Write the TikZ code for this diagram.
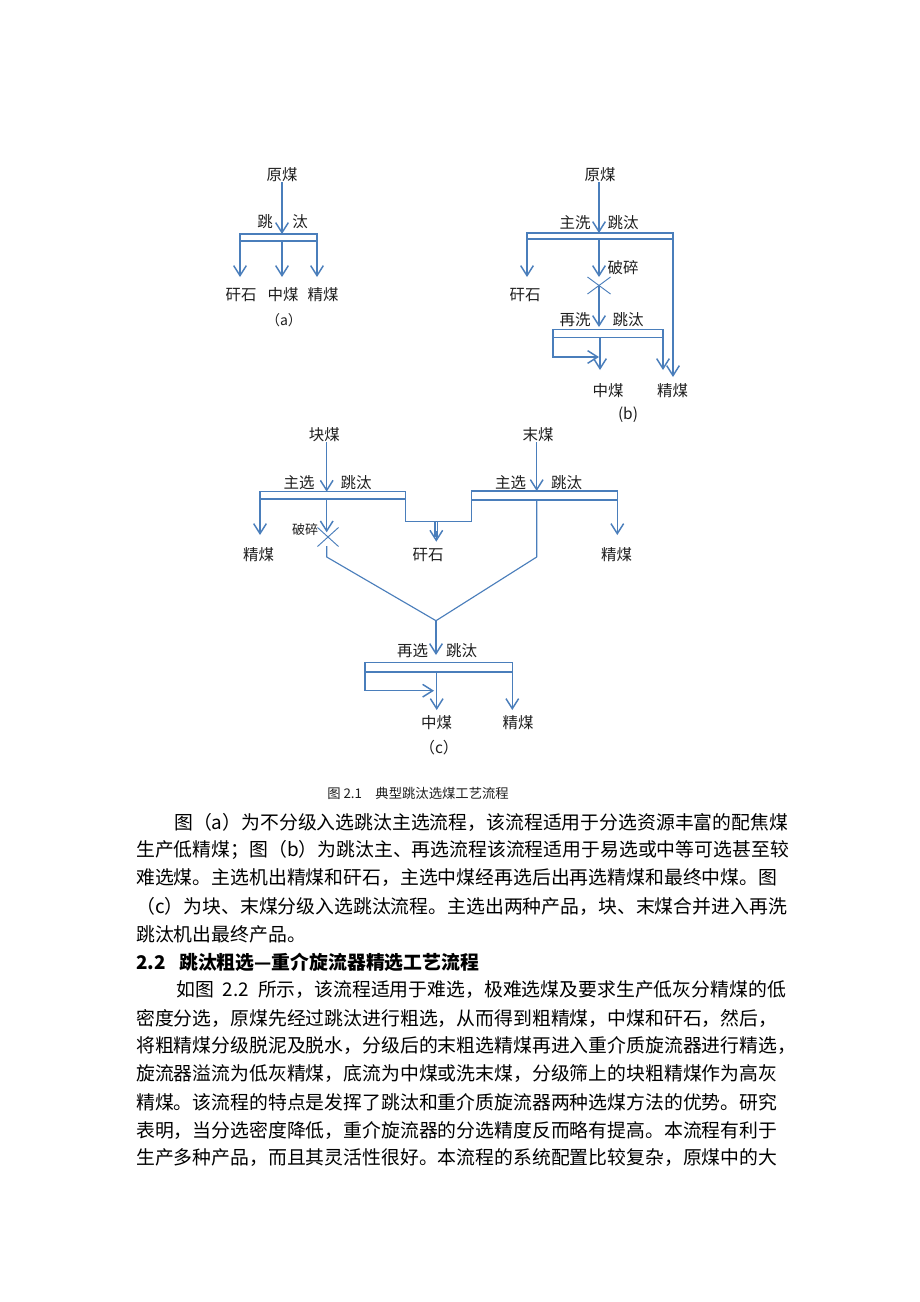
\documentclass[tikz,border=0pt]{standalone}
\usepackage{fontspec}
\setmainfont{Noto Sans CJK SC}
\usetikzlibrary{arrows.meta}
\definecolor{flowblue}{HTML}{4A7EBB}
\definecolor{ink}{HTML}{1E1E1E}
\tikzset{
  flow/.style={draw=flowblue, line width=1.1pt, line join=miter},
  arr/.style={flow, -{Straight Barb[length=7.5pt,width=9.5pt]}},
  arr2/.style={flow, {Straight Barb[length=7.5pt,width=9.5pt]}-{Straight Barb[length=7.5pt,width=9.5pt]}},
  fine/.style={draw=flowblue, line width=0.7pt},
  mid/.style={draw=flowblue, line width=0.85pt, line join=round},
  lab/.style={text=ink, inner sep=0pt, font=\fontsize{11.6pt}{13pt}\selectfont},
  smalllab/.style={text=ink, inner sep=0pt, font=\fontsize{9.75pt}{11pt}\selectfont},
  capt/.style={text=ink, inner sep=0pt, font=\fontsize{10pt}{12pt}\selectfont},
  bodyline/.style={text=black, inner sep=0pt, anchor=west, font=\fontsize{14.14pt}{17pt}\selectfont},
}
\begin{document}
\begin{tikzpicture}[x=0.75pt,y=-0.75pt]
\useasboundingbox (0,0) rectangle (920,1302);
\fill[white] (0,0) rectangle (920,1302);

% ---------------- (a) ----------------
\node[lab] (a-raw) at (282,175) {原煤};
\node[lab] (a-j1) at (265,222) {跳};
\node[lab] (a-j2) at (300,222) {汰};
\coordinate (aT) at (282,234);
\coordinate (aBL) at (240,234); \coordinate (aBR) at (317,234);
\coordinate (aCL) at (240,241); \coordinate (aCR) at (317,241); \coordinate (aCM) at (282,241);
\coordinate (aE1) at (240,277); \coordinate (aE2) at (282,277); \coordinate (aE3) at (317,277);
\draw[arr] (a-raw.south) -- (aT);
\draw[arr2] (aE1) -- (aBL) -- (aBR) -- (aE3);
\draw[flow] (aCL) -- (aCR);
\draw[arr] (aCM) -- (aE2);
\node[lab] (a-o1) at (241,295) {矸石};
\node[lab] (a-o2) at (283,295) {中煤};
\node[lab] (a-o3) at (323,295) {精煤};
\node[lab, font=\fontsize{10.5pt}{12pt}\selectfont] (a-cap) at (284,320) {（a）};

% ---------------- (b) ----------------
\node[lab] (b-raw) at (600,175) {原煤};
\node[lab] (b-j1) at (575,223) {主洗};
\node[lab] (b-j2) at (623,223) {跳汰};
\coordinate (bT) at (599,233);
\draw[arr] (b-raw.south -| bT) -- (bT);
\draw[arr2] (527,277) -- (527,233) -- (673,233) -- (673,377);
\draw[flow] (527,239) -- (673,239);
\draw[arr] (599,239) -- (599,277);
\node[lab] (b-o1) at (525,295) {矸石};
\node[lab] (b-cr) at (623,268) {破碎};
\coordinate (bX) at (599,285.5);
\draw[fine] (587.5,277) -- (610.5,294);
\draw[fine] (587.5,294) -- (610.5,277);
\draw[arr] (bX) -- (599,327);
\node[lab] (b-j3) at (575,320) {再洗};
\node[lab] (b-j4) at (628,320) {跳汰};
\draw[arr2] (599,357) -- (553,357) -- (553,329.3) -- (663,329.3) -- (663,370);
\draw[flow] (553,337.3) -- (663,337.3);
\draw[arr] (600,337.3) -- (600,370);
\node[lab] (b-o2) at (608,391) {中煤};
\node[lab] (b-o3) at (672.5,391) {精煤};
\node[lab] (b-cap) at (628,415) {(b)};

% ---------------- (c) ----------------
\node[lab] (c-k) at (324.3,435) {块煤};
\node[lab] (c-m) at (538,435) {末煤};
\coordinate (cKT) at (326.7,491.7);
\coordinate (cMT) at (536.7,491);
\draw[arr] (c-k.south -| cKT) -- (cKT);
\draw[arr] (c-m.south -| cMT) -- (cMT);
\node[lab] (c-j1) at (299,483) {主选};
\node[lab] (c-j2) at (356,483) {跳汰};
\node[lab] (c-j3) at (510.7,483) {主选};
\node[lab] (c-j4) at (566.7,483) {跳汰};
\draw[arr2] (260,535) -- (260,491.7) -- (405.7,491.7) -- (405.7,521.7) -- (471.7,521.7) -- (471.7,491) -- (617.3,491) -- (617.3,535);
\draw[flow] (260,499) -- (405.7,499);
\draw[flow] (471.7,500) -- (617.3,500);
% gangue double arrow
\draw[mid] (435,521.7) -- (435,537);
\draw[mid] (437.6,521.7) -- (437.6,537);
\draw[arr] (436.3,531) -- (436.3,541.7);
\node[lab] (c-g) at (428,555) {矸石};
\node[lab] (c-o1) at (258.7,555) {精煤};
\node[lab] (c-o2) at (616.7,555) {精煤};
% crusher
\draw[arr] (326.7,499) -- (326.7,532.3);
\coordinate (cX) at (328,537);
\draw[fine] (317.5,527.5) -- (338.5,546.5);
\draw[fine] (317.5,546.5) -- (338.5,527.5);
\node[smalllab] (c-cr) at (305,530) {破碎};
\coordinate (cJ) at (436,620.7);
\draw[mid] (326.7,546) -- (326.7,557) -- (cJ);
\draw[mid] (536.7,500) -- (536.7,557) -- (cJ);
\draw[arr] (cJ) -- (436,655);
\node[lab] (c-j5) at (412.7,651) {再选};
\node[lab] (c-j6) at (461.7,651) {跳汰};
\draw[arr2] (434,690.7) -- (365,690.7) -- (365,662.7) -- (512.3,662.7) -- (512.3,710);
\draw[flow] (365,672) -- (512.3,672);
\draw[arr] (436.7,672) -- (436.7,710);
\node[lab] (c-o3) at (436.7,723) {中煤};
\node[lab] (c-o4) at (518,723) {精煤};
\node[lab] (c-cap) at (439,748) {（c）};

% ---------------- caption ----------------
\node[capt, anchor=west] (fig-cap) at (327,793) {图 2.1\hspace{10pt}典型跳汰选煤工艺流程};

% ---------------- body text ----------------
\node[bodyline] (p1l1) at (174,822) {图（a）为不分级入选跳汰主选流程，该流程适用于分选资源丰富的配焦煤};
\node[bodyline] (p1l2) at (136,850) {生产低精煤；图（b）为跳汰主、再选流程该流程适用于易选或中等可选甚至较};
\node[bodyline] (p1l3) at (136,878) {难选煤。主选机出精煤和矸石，主选中煤经再选后出再选精煤和最终中煤。图};
\node[bodyline] (p1l4) at (136,906) {（c）为块、末煤分级入选跳汰流程。主选出两种产品，块、末煤合并进入再洗};
\node[bodyline] (p1l5) at (136,934) {跳汰机出最终产品。};
\node[bodyline, font=\fontsize{14.14pt}{17pt}\selectfont\bfseries] (h22) at (136,962) {2.2\hspace{10pt}跳汰粗选—重介旋流器精选工艺流程};
\node[bodyline] (p2l1) at (176,990) {如图 \hspace{0.25em}2.2 \hspace{0.25em}所示，该流程适用于难选，极难选煤及要求生产低灰分精煤的低};
\node[bodyline] (p2l2) at (136,1018) {密度分选，原煤先经过跳汰进行粗选，从而得到粗精煤，中煤和矸石，然后，};
\node[bodyline] (p2l3) at (136,1046) {将粗精煤分级脱泥及脱水，分级后的末粗选精煤再进入重介质旋流器进行精选，};
\node[bodyline] (p2l4) at (136,1074) {旋流器溢流为低灰精煤，底流为中煤或洗末煤，分级筛上的块粗精煤作为高灰};
\node[bodyline] (p2l5) at (136,1102) {精煤。该流程的特点是发挥了跳汰和重介质旋流器两种选煤方法的优势。研究};
\node[bodyline] (p2l6) at (136,1130) {表明，当分选密度降低，重介旋流器的分选精度反而略有提高。本流程有利于};
\node[bodyline] (p2l7) at (136,1158) {生产多种产品，而且其灵活性很好。本流程的系统配置比较复杂，原煤中的大};
\end{tikzpicture}
\end{document}
